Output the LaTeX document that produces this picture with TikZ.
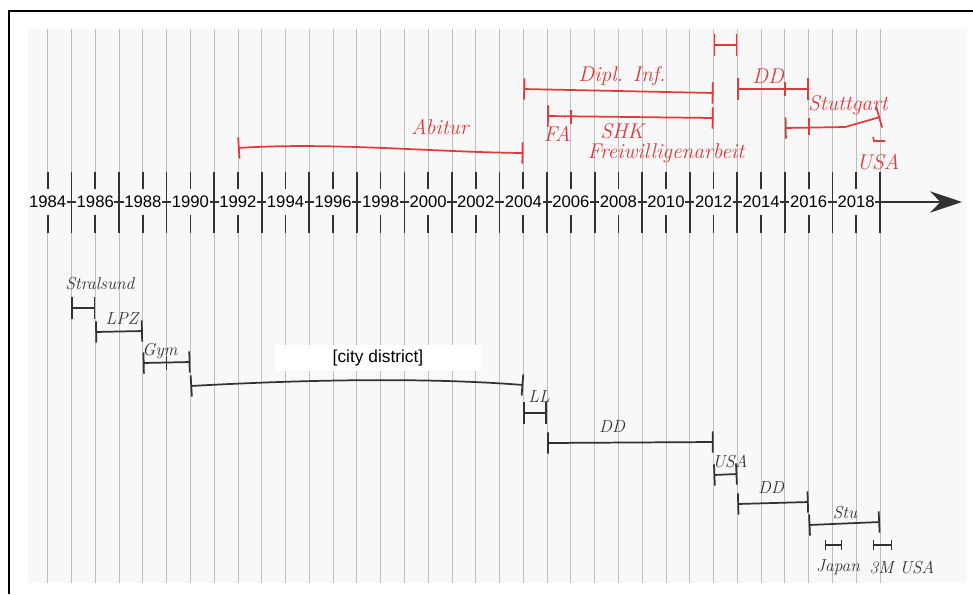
\documentclass[tikz,border=0pt]{standalone}
\usepackage{fontspec}
\newfontfamily\axisfont{Liberation Sans}
\usetikzlibrary{arrows.meta}
\definecolor{paper}{RGB}{248,248,248}
\definecolor{rule}{RGB}{190,190,190}
\definecolor{ink}{RGB}{50,50,50}
\definecolor{pen}{RGB}{226,58,58}

\begin{document}
\begin{tikzpicture}[
  x=0.75pt, y=-0.75pt,
  span/.style={{Bar[width=16pt]}-{Bar[width=16pt]}, line width=1.3pt},
  minispan/.style={{Bar[width=8pt]}-{Bar[width=8pt]}, line width=1.1pt},
  divider/.style={line width=1.3pt},
  hand/.style={font=\fontsize{16}{16}\selectfont\itshape, text=pen},
  note/.style={font=\fontsize{13}{13}\selectfont\itshape, text=ink},
  year/.style={font=\axisfont\fontsize{12.5}{12.5}\selectfont, fill=paper, inner xsep=0.5pt, inner ysep=5pt},
  tick/.style={line width=1.3pt, draw=ink}
]
\useasboundingbox (0,0) rectangle (973,594);
\fill[paper] (28,29) rectangle (967,583);
\draw[line width=1.1pt] (9,594) |- (973,11);

\foreach \yr in {1984,...,2019} {
  \coordinate (t\yr) at ({47.7+(\yr-1984)*23.78},202);
  \draw[rule, line width=0.6pt] (t\yr |- 0,29) -- (t\yr |- 0,583);
  \draw[tick] (t\yr |- 0,172) -- (t\yr |- 0,233);
}
\coordinate (axisstart) at (28,202);
\coordinate (axisend) at (962,202);
\draw[ink, line width=1.1pt, -{Stealth[length=24pt,width=16pt]}] (axisstart) -- (axisend);
\foreach \yr in {1984,1986,...,2018}
  \node[year] (l\yr) at (t\yr) {\yr};

% red: above the axis
\draw[span, pen] (t1992 |- 0,148) .. controls (330,142) and (430,152) .. (t2004 |- 0,153);
\node[hand] (abitur) at (440,127) {Abitur};
\draw[span, pen] (t2004 |- 0,89) -- (t2012 |- 0,93);
\node[hand] (diplom) at (622,76) {Dipl. Inf.};
\draw[span, pen] (t2005 |- 0,116) -- (t2012 |- 0,118);
\draw[divider, pen] (t2006 |- 0,110) -- (t2006 |- 0,124);
\node[hand] (fa) at (557,134) {FA};
\node[hand] (shk) at (622,131) {SHK};
\node[hand] (freiwillig) at (666,153) {Freiwilligenarbeit};
\draw[span, pen] (t2012 |- 0,45) -- (t2013 |- 0,45);
\draw[span, pen] (t2013 |- 0,89) -- (t2016 |- 0,89);
\draw[divider, pen] (t2015 |- 0,82) -- (t2015 |- 0,96);
\node[hand] (ddred) at (768,76) {DD};
\draw[span, pen] (t2015 |- 0,128) -- (845,127) -- (t2019 |- 0,117);
\draw[divider, pen] (t2016 |- 0,118) -- (t2016 |- 0,135);
\node[hand] (stuttgart) at (848,105) {Stuttgart};
\draw[pen, line width=1.2pt] (873,137) -- (874,141) -- (885,141);
\node[hand] (usared) at (878,162) {USA};

% black: below the axis
\draw[span, ink] (t1985 |- 0,308) -- (t1986 |- 0,308);
\node[note] (stralsund) at (100,284) {Stralsund};
\draw[span, ink] (t1986 |- 0,332) -- (t1988 |- 0,331);
\node[note] (lpz) at (122,319) {LPZ};
\draw[span, ink] (t1988 |- 0,363) -- (t1990 |- 0,362);
\draw[divider, ink] (t1989 |- 0,356) -- (t1989 |- 0,370);
\node[note] (gym) at (160,351) {Gym};
\draw[span, ink] (t1990 |- 0,386) .. controls (300,380) and (420,377) .. (t2004 |- 0,385);
\node[fill=white, minimum width=155pt, minimum height=20pt,
  font=\axisfont\fontsize{13}{13}\selectfont] (district) at (378,358) {[city district]};
\draw[span, ink] (t2004 |- 0,413) -- (t2005 |- 0,413);
\node[note] (ll) at (539,397) {LL};
\draw[span, ink] (t2005 |- 0,443) -- (t2012 |- 0,442);
\node[note] (ddone) at (612,427) {DD};
\draw[span, ink] (t2012 |- 0,475) -- (t2013 |- 0,474);
\node[note] (usa) at (730,461) {USA};
\draw[span, ink] (t2013 |- 0,504) -- (t2016 |- 0,502);
\node[note] (ddtwo) at (771,488) {DD};
\draw[span, ink] (t2016 |- 0,525) -- (t2019 |- 0,522);
\node[note] (stu) at (845,513) {Stu};
\coordinate (japanstart) at (825,545);
\coordinate (japanend) at (842,545);
\draw[minispan, ink] (japanstart) -- (japanend);
\node[note] (japan) at (838,567) {Japan};
\coordinate (threemstart) at (873,545);
\coordinate (threemend) at (892,545);
\draw[minispan, ink] (threemstart) -- (threemend);
\node[note] (threem) at (902,567) {3M USA};

\end{tikzpicture}
\end{document}
